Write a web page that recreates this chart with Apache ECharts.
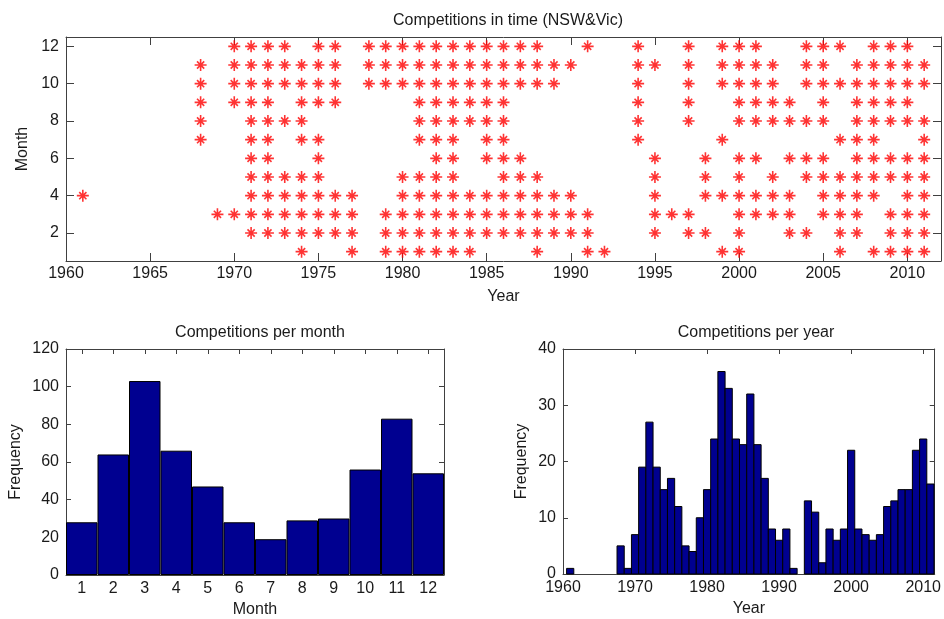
<!DOCTYPE html>
<html>
<head>
<meta charset="utf-8">
<script src="https://cdn.jsdelivr.net/npm/echarts@6/dist/echarts.min.js"></script>
<style>
html,body{margin:0;padding:0;background:#fff;}
#chart{width:944px;height:619px;}
</style>
</head>
<body>
<div id="chart"></div>
<script>
// ---- Top scatter: years in which competitions took place, per month ----
const month1  = [1974,1977,1979,1980,1981,1982,1983,1984,1988,1991,1992,1999,2000,2006,2008,2009,2010,2011];
const month2  = [1971,1972,1973,1974,1975,1976,1977,1979,1980,1981,1982,1983,1984,1985,1986,1987,1988,1989,1990,1991,1995,1997,1998,2000,2003,2004,2006,2007,2009,2010,2011];
const month3  = [1969,1970,1971,1972,1973,1974,1975,1976,1977,1979,1980,1981,1982,1983,1984,1985,1986,1987,1988,1989,1990,1991,1995,1996,1997,2000,2001,2002,2003,2005,2006,2007,2009,2010,2011];
const month4  = [1961,1971,1972,1973,1974,1975,1976,1977,1980,1981,1982,1983,1984,1985,1986,1987,1988,1989,1990,1995,1998,1999,2000,2001,2002,2003,2005,2006,2007,2008,2010,2011];
const month5  = [1971,1972,1973,1974,1975,1980,1981,1982,1983,1986,1987,1988,1995,1998,2000,2002,2004,2005,2006,2007,2008,2009,2010,2011];
const month6  = [1971,1972,1975,1982,1983,1985,1986,1987,1995,1998,2000,2001,2003,2004,2005,2007,2008,2009,2010,2011];
const month7  = [1968,1971,1972,1974,1975,1981,1982,1983,1985,1986,1994,1999,2006,2007,2008,2011];
const month8  = [1968,1971,1972,1973,1974,1981,1982,1983,1984,1985,1986,1994,1997,2000,2001,2002,2003,2004,2005,2007,2008,2009,2010,2011];
const month9  = [1968,1970,1971,1972,1974,1975,1976,1981,1982,1983,1984,1985,1986,1994,1997,2000,2001,2002,2003,2005,2007,2008,2009,2010];
const month10 = [1968,1970,1971,1972,1973,1974,1975,1976,1978,1979,1980,1981,1982,1983,1984,1985,1986,1987,1988,1989,1994,1997,1999,2000,2001,2002,2004,2005,2006,2007,2008,2009,2010,2011];
const month11 = [1968,1970,1971,1972,1973,1974,1975,1976,1978,1979,1980,1981,1982,1983,1984,1985,1986,1987,1988,1989,1990,1994,1995,1997,1999,2000,2001,2002,2004,2005,2007,2008,2009,2010,2011];
const month12 = [1970,1971,1972,1973,1975,1976,1978,1979,1980,1981,1982,1983,1984,1985,1986,1987,1988,1991,1994,1997,1999,2000,2001,2004,2005,2006,2008,2009,2010];

// ---- Histogram per month ----
const monthLabels = ['1','2','3','4','5','6','7','8','9','10','11','12'];
const perMonth = [28,64,103,66,47,28,19,29,30,56,83,54];

// ---- Histogram per year ----
const yearList = [1960,1961,1962,1963,1964,1965,1966,1967,1968,1969,1970,1971,1972,1973,1974,1975,1976,1977,1978,1979,1980,1981,1982,1983,1984,1985,1986,1987,1988,1989,1990,1991,1992,1993,1994,1995,1996,1997,1998,1999,2000,2001,2002,2003,2004,2005,2006,2007,2008,2009,2010,2011];
const perYear  = [0,1,0,0,0,0,0,0,5,1,7,19,27,19,15,17,12,5,4,10,15,24,36,33,24,23,32,23,17,8,6,8,1,0,13,11,2,8,6,8,22,8,7,6,7,12,13,15,15,22,24,16];

// ---- Tick labels ----
const topYearTicks = [1960,1965,1970,1975,1980,1985,1990,1995,2000,2005,2010];
const topMonthTicks = [2,4,6,8,10,12];
const histYearTicks = [1960,1970,1980,1990,2000,2010];

const monthRows = [month1,month2,month3,month4,month5,month6,month7,month8,month9,month10,month11,month12];
const scatterData = [];
monthRows.forEach((ys, i) => ys.forEach(y => scatterData.push([y, i + 1])));

const FONT = "'Liberation Sans', Arial, Helvetica, sans-serif";
const TXT = '#1a1a1a';
const LINE = '#404040';
const nameStyle = {color: TXT, fontSize: 16, fontFamily: FONT};
const plain = v => String(v);

function boxAxis(gridIndex, pos, type, extra) {
  return Object.assign({
    gridIndex: gridIndex,
    position: pos,
    type: type,
    axisLine: {show: true, onZero: false, lineStyle: {color: LINE, width: 1}},
    axisTick: {show: true, inside: true, length: 5, lineStyle: {color: LINE}},
    axisLabel: {show: false},
    splitLine: {show: false}
  }, extra);
}

const chart = echarts.init(document.getElementById('chart'), null, {renderer: 'canvas'});

const option = {
  backgroundColor: '#fff',
  animation: false,
  title: [
    {text: 'Competitions in time (NSW&Vic)', left: 503, top: 8, textAlign: 'center',
     textStyle: {fontWeight: 'normal', fontSize: 16, fontFamily: FONT, color: TXT}},
    {text: 'Competitions per month', left: 255, top: 320, textAlign: 'center',
     textStyle: {fontWeight: 'normal', fontSize: 16, fontFamily: FONT, color: TXT}},
    {text: 'Competitions per year', left: 751, top: 320, textAlign: 'center',
     textStyle: {fontWeight: 'normal', fontSize: 16, fontFamily: FONT, color: TXT}}
  ],
  grid: [
    {left: 66, top: 37, width: 875, height: 224},
    {left: 66, top: 349, width: 378, height: 226},
    {left: 563, top: 349, width: 376, height: 225}
  ],
  xAxis: [
    boxAxis(0, 'bottom', 'value', {
      min: 1960, max: 2012,
      axisTick: {show: true, inside: true, length: 8, lineStyle: {color: LINE}, customValues: topYearTicks},
      axisLabel: {show: true, margin: 5, customValues: topYearTicks, formatter: plain, color: TXT, fontSize: 16, fontFamily: FONT},
      name: 'Year', nameLocation: 'middle', nameGap: 28, nameTextStyle: nameStyle
    }),
    boxAxis(0, 'top', 'value', {
      min: 1960, max: 2012,
      axisTick: {show: true, inside: true, length: 8, lineStyle: {color: LINE}, customValues: topYearTicks}
    }),
    boxAxis(1, 'bottom', 'category', {
      data: monthLabels, boundaryGap: true,
      axisTick: {show: true, inside: true, length: 5, alignWithLabel: true, lineStyle: {color: LINE}},
      axisLabel: {show: true, margin: 6, color: TXT, fontSize: 16, fontFamily: FONT},
      name: 'Month', nameLocation: 'middle', nameGap: 27, nameTextStyle: nameStyle
    }),
    boxAxis(1, 'top', 'category', {
      data: monthLabels, boundaryGap: true,
      axisTick: {show: true, inside: true, length: 5, alignWithLabel: true, lineStyle: {color: LINE}}
    }),
    boxAxis(2, 'bottom', 'value', {
      min: 1960, max: 2011.6,
      axisTick: {show: true, inside: true, length: 5, lineStyle: {color: LINE}, customValues: histYearTicks},
      axisLabel: {show: true, margin: 6, customValues: histYearTicks, formatter: plain, color: TXT, fontSize: 16, fontFamily: FONT},
      name: 'Year', nameLocation: 'middle', nameGap: 27, nameTextStyle: nameStyle
    }),
    boxAxis(2, 'top', 'value', {
      min: 1960, max: 2011.6,
      axisTick: {show: true, inside: true, length: 5, lineStyle: {color: LINE}, customValues: histYearTicks}
    })
  ],
  yAxis: [
    boxAxis(0, 'left', 'value', {
      min: 0.5, max: 12.5,
      axisTick: {show: true, inside: true, length: 8, lineStyle: {color: LINE}, customValues: topMonthTicks},
      axisLabel: {show: true, margin: 7, customValues: topMonthTicks, color: TXT, fontSize: 16, fontFamily: FONT},
      name: 'Month', nameLocation: 'middle', nameGap: 31, nameTextStyle: nameStyle
    }),
    boxAxis(0, 'right', 'value', {
      min: 0.5, max: 12.5,
      axisTick: {show: true, inside: true, length: 8, lineStyle: {color: LINE}, customValues: topMonthTicks}
    }),
    boxAxis(1, 'left', 'value', {
      min: 0, max: 120, interval: 20,
      axisTick: {show: true, inside: true, length: 5, lineStyle: {color: LINE}},
      axisLabel: {show: true, margin: 7, color: TXT, fontSize: 16, fontFamily: FONT},
      name: 'Frequency', nameLocation: 'middle', nameGap: 42, nameTextStyle: nameStyle
    }),
    boxAxis(1, 'right', 'value', {min: 0, max: 120, interval: 20}),
    boxAxis(2, 'left', 'value', {
      min: 0, max: 40, interval: 10,
      axisTick: {show: true, inside: true, length: 5, lineStyle: {color: LINE}},
      axisLabel: {show: true, margin: 7, color: TXT, fontSize: 16, fontFamily: FONT},
      name: 'Frequency', nameLocation: 'middle', nameGap: 33, nameTextStyle: nameStyle
    }),
    boxAxis(2, 'right', 'value', {min: 0, max: 40, interval: 10})
  ],
  series: [
    {
      type: 'scatter', xAxisIndex: 0, yAxisIndex: 0,
      data: scatterData,
      symbol: 'path://M0,-10L0,10M-10,0L10,0M-6,-6L6,6M-6,6L6,-6',
      symbolSize: 12,
      itemStyle: {color: 'rgba(255,0,0,0)', borderColor: '#ff0000', borderWidth: 1.6},
      silent: true
    },
    {
      type: 'bar', xAxisIndex: 2, yAxisIndex: 2,
      data: perMonth,
      barWidth: '100%', barCategoryGap: '0%',
      itemStyle: {color: '#000090', borderColor: '#000000', borderWidth: 1},
      silent: true
    },
    {
      type: 'custom', xAxisIndex: 4, yAxisIndex: 4,
      data: yearList.map((y, i) => [y, perYear[i]]),
      encode: {x: 0, y: 1},
      renderItem: function (params, api) {
        const yr = api.value(0), v = api.value(1);
        if (!v) return null;
        const p0 = api.coord([yr - 0.5, v]);
        const p1 = api.coord([yr + 0.5, 0]);
        return {
          type: 'rect',
          shape: {x: p0[0], y: p0[1], width: p1[0] - p0[0], height: p1[1] - p0[1]},
          style: {fill: '#000090', stroke: '#000000', lineWidth: 1}
        };
      },
      silent: true
    }
  ]
};
chart.setOption(option);
</script>
</body>
</html>
